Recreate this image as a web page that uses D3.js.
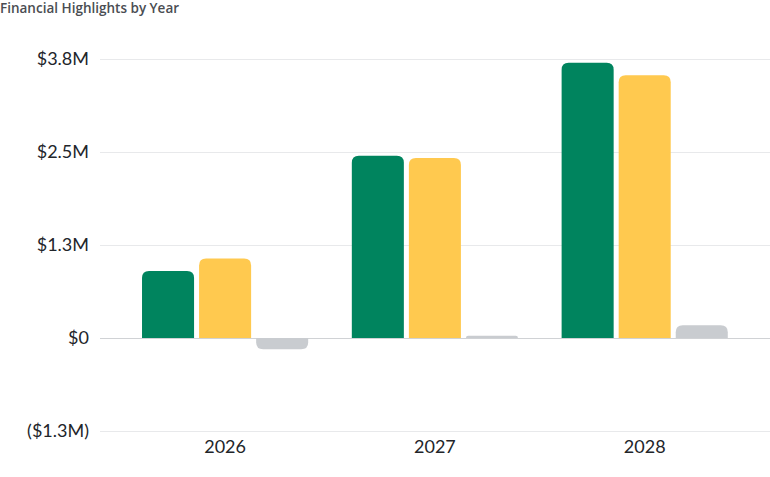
<!DOCTYPE html>
<html>
<head>
<meta charset="utf-8">
<script src="https://cdn.jsdelivr.net/npm/d3@7"></script>
<style>
  body { margin: 0; background: #fff; }
  svg text { font-family: Lato, "Noto Sans", sans-serif; }
</style>
</head>
<body>
<div id="chart"></div>
<script>
// values in $M
var years = ['2026', '2027', '2028'];
var seriesNames = ['green', 'yellow', 'gray'];
var greenVals = [0.90, 2.45, 3.70];
var yellowVals = [1.07, 2.42, 3.53];
var grayVals = [-0.15, 0.03, 0.17];
var yTicks = [-1.25, 0, 1.25, 2.5, 3.75];

var colors = { green: '#00845e', yellow: '#ffc94f', gray: '#c9ccd0' };

var W = 770, H = 477;
var svg = d3.select('#chart').append('svg')
  .attr('width', W)
  .attr('height', H);

var y = d3.scaleLinear().domain([-1.25, 3.75]).range([431, 59]);
var x = d3.scaleBand().domain(years).range([120.2, 749.6])
  .paddingInner(0.208).paddingOuter(0.104);
var xs = d3.scaleBand().domain(seriesNames).range([0, x.bandwidth()])
  .paddingInner(0.088).paddingOuter(0);

function fmt(v){
  if(v === 0) return '$0';
  var s = '$' + d3.format('.1f')(Math.abs(v)) + 'M';
  return v < 0 ? '(' + s + ')' : s;
}

svg.append('text')
  .attr('x', 0).attr('y', 13)
  .attr('font-size', 13.5).attr('font-weight', 600)
  .attr('fill', '#4a4d52')
  .style('font-family', '"Open Sans", Lato, sans-serif')
  .text('Financial Highlights by Year');

// grid + y labels
var yAxis = svg.append('g').attr('transform', 'translate(100,0)')
  .call(d3.axisLeft(y).tickValues(yTicks).tickFormat(fmt).tickSize(0).tickPadding(11));
yAxis.select('.domain').remove();
yAxis.selectAll('text').attr('font-size', 18).attr('fill', '#22252a')
  .style('font-family', 'Lato, "Noto Sans", sans-serif');
yAxis.selectAll('.tick').append('line')
  .attr('x1', 0).attr('x2', W - 100)
  .attr('stroke', function(d){ return d === 0 ? '#d0d2d5' : '#e8e9eb'; })
  .attr('stroke-width', 1.2);

// x labels
var xAxis = svg.append('g').attr('transform', 'translate(0,431)')
  .call(d3.axisBottom(x).tickSize(0).tickPadding(9));
xAxis.select('.domain').remove();
xAxis.selectAll('text').attr('font-size', 18).attr('fill', '#22252a')
  .style('font-family', 'Lato, "Noto Sans", sans-serif');

// bars with rounded outer end
function barPath(x0, w, v, r){
  var y0 = y(0), y1 = y(v);
  var h = Math.abs(y1 - y0);
  r = Math.min(r, h, w / 2);
  var s = v >= 0 ? 1 : -1;
  return 'M' + x0 + ',' + y0 + 'V' + (y1 + s * r) +
    'Q' + x0 + ',' + y1 + ' ' + (x0 + r) + ',' + y1 +
    'H' + (x0 + w - r) +
    'Q' + (x0 + w) + ',' + y1 + ' ' + (x0 + w) + ',' + (y1 + s * r) +
    'V' + y0 + 'Z';
}

var rows = [];
years.forEach(function(yr, i){
  rows.push({ year: yr, key: 'green', v: greenVals[i] });
  rows.push({ year: yr, key: 'yellow', v: yellowVals[i] });
  rows.push({ year: yr, key: 'gray', v: grayVals[i] });
});

svg.append('g').selectAll('path.bar')
  .data(rows)
  .enter().append('path')
    .attr('class', 'bar')
    .attr('fill', function(d){ return colors[d.key]; })
    .attr('d', function(d){
      return barPath(x(d.year) + xs(d.key), xs.bandwidth(), d.v, 7);
    });
</script>
</body>
</html>
